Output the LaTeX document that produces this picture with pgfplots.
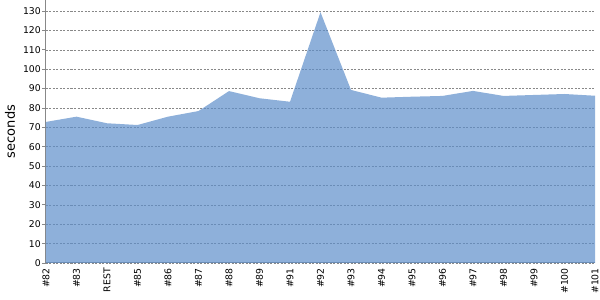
\documentclass[border=0pt]{standalone}
\usepackage{pgfplots}
\pgfplotsset{compat=1.18}
\usepackage{fontspec}
\setmainfont{DejaVu Sans}
\definecolor{areafill}{RGB}{94,142,202}
\definecolor{axgray}{RGB}{136,136,136}
\begin{document}
\begin{tikzpicture}
\path[use as bounding box] (-46pt,-37pt) rectangle (554pt,263pt);
\begin{axis}[
  at={(0,0)}, anchor=south west,
  scale only axis, width=549pt, height=263pt,
  xmin=0, xmax=18, ymin=0, ymax=135.7,
  axis x line*=bottom, axis y line*=left,
  axis line style={axgray, line width=1pt},
  xtick={0,...,18},
  xticklabels={\#82,\#83,REST,\#85,\#86,\#87,\#88,\#89,\#91,\#92,\#93,\#94,\#95,\#96,\#97,\#98,\#99,\#100,\#101},
  x tick label style={rotate=90, anchor=east, font=\fontsize{9.3}{10}\selectfont, inner sep=1pt},
  ytick={0,10,...,130},
  y tick label style={font=\fontsize{9.3}{10}\selectfont, inner sep=1pt},
  /pgf/number format/assume math mode=true,
  x tick style={draw=none},
  y tick style={axgray, line width=0.8pt},
  major tick length=4pt,
  tick pos=left,
  tick align=outside,
  ymajorgrids,
  grid style={axgray, line width=0.6pt, dash pattern=on 2pt off 1.5pt},
  ylabel={seconds},
  ylabel style={at={(axis description cs:-0.05,0.5)}, anchor=south, font=\fontsize{13}{14}\selectfont},
]
\addplot[fill=areafill, fill opacity=0.7, draw=none] coordinates {
(0,72.8) (1,75.5) (2,72.1) (3,71.2) (4,75.5) (5,78.4) (6,88.7) (7,85.0) (8,83.2) (9,129.4)
(10,89.3) (11,85.3) (12,85.8) (13,86.2) (14,88.8) (15,86.2) (16,86.7) (17,87.2) (18,86.3)
} \closedcycle;
\end{axis}
\end{tikzpicture}
\end{document}
